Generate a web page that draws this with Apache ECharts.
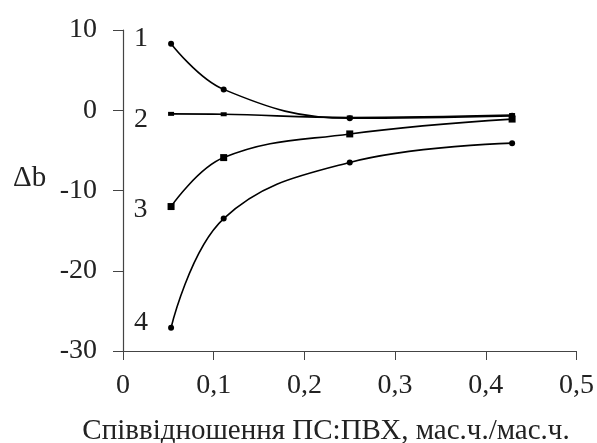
<!DOCTYPE html>
<html><head><meta charset="utf-8">
<script src="https://cdn.jsdelivr.net/npm/echarts@6/dist/echarts.min.js"></script>
<style>html,body{margin:0;padding:0;background:#fff}#c{width:597px;height:443px}</style>
</head><body><div id="c"></div>
<script>
const xValues = [0.053, 0.111, 0.25, 0.429];
const series1 = [8.3, 2.6, -1.0, -0.7];
const series2 = [-0.45, -0.5, -0.9, -0.6];
const series3 = [-12.0, -5.9, -2.95, -1.1];
const series4 = [-27.1, -13.5, -6.5, -4.1];
const seriesNames = ['1', '2', '3', '4'];
const xTitle = 'Співвідношення ПС:ПВХ, мас.ч./мас.ч.';
const yTitle = 'Δb';

const font = 'Liberation Serif, Times New Roman, serif';
const chart = echarts.init(document.getElementById('c'), null, {renderer: 'canvas'});

function mk(vals, idx, symbol, size, labelOffset) {
  return {
    type: 'line', name: seriesNames[idx], smooth: 0.4,
    symbol: symbol, symbolSize: size,
    lineStyle: {color: '#000', width: 1.6},
    itemStyle: {color: '#000'},
    animation: false,
    data: vals.map((v, i) => {
      const d = {value: [xValues[i], v]};
      if (i === 0) {
        d.label = {show: true, position: 'left', distance: 20, offset: labelOffset,
          formatter: seriesNames[idx], color: '#222', fontFamily: font, fontSize: 28};
      }
      return d;
    })
  };
}

chart.setOption({
  backgroundColor: '#fff',
  animation: false,
  grid: {left: 123, right: 20, top: 30, bottom: 92},
  xAxis: {
    type: 'value', min: 0, max: 0.5, interval: 0.1,
    axisLine: {onZero: false, lineStyle: {color: '#444', width: 1.2}},
    axisTick: {show: true, inside: false, length: 9, lineStyle: {color: '#444'}},
    axisLabel: {fontFamily: font, fontSize: 28, color: '#222', margin: 21,
      formatter: v => String(Math.round(v * 10) / 10).replace('.', ',')},
    splitLine: {show: false}
  },
  yAxis: {
    type: 'value', min: -30, max: 10, interval: 10,
    axisLine: {show: true, onZero: false, lineStyle: {color: '#444', width: 1.2}},
    axisTick: {show: true, inside: false, length: 10, lineStyle: {color: '#444'}},
    axisLabel: {fontFamily: font, fontSize: 28, color: '#222', margin: 26},
    splitLine: {show: false}
  },
  graphic: [{
    type: 'text', left: 13, top: 164,
    style: {text: yTitle, font: '29px ' + font, fill: '#222'}
  }, {
    type: 'text', x: 326, y: 431,
    style: {text: xTitle, font: '29px ' + font, fill: '#222', align: 'center', verticalAlign: 'middle'}
  }],
  series: [
    mk(series1, 0, 'circle', 6, [0, -5]),
    mk(series2, 1, 'rect', [6, 4], [0, 6]),
    mk(series3, 2, 'rect', 7, [0, 3]),
    mk(series4, 3, 'circle', 6, [0, -5])
  ]
});
</script></body></html>
